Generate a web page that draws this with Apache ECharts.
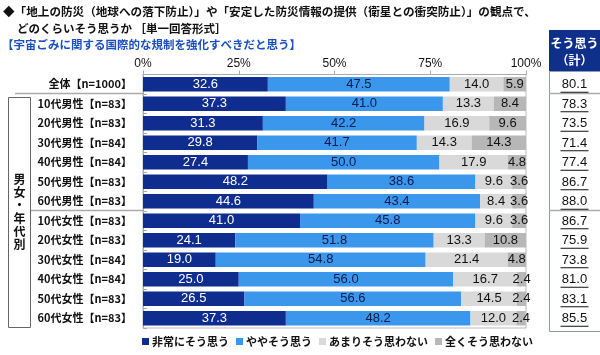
<!DOCTYPE html>
<html><head><meta charset="utf-8">
<script src="https://cdn.jsdelivr.net/npm/echarts@6/dist/echarts.min.js"></script>
<style>html,body{margin:0;padding:0;background:#fff}#c{width:600px;height:355px}</style>
</head><body><div id="c"></div>
<script>
const categories = ['全体【n=1000】','10代男性【n=83】','20代男性【n=83】','30代男性【n=84】','40代男性【n=84】','50代男性【n=83】','60代男性【n=83】','10代女性【n=83】','20代女性【n=83】','30代女性【n=84】','40代女性【n=84】','50代女性【n=83】','60代女性【n=83】'];
const seriesNames = ['非常にそう思う','ややそう思う','あまりそう思わない','全くそう思わない'];
const veryMuch = [32.6,37.3,31.3,29.8,27.4,48.2,44.6,41.0,24.1,19.0,25.0,26.5,37.3];
const somewhat = [47.5,41.0,42.2,41.7,50.0,38.6,43.4,45.8,51.8,54.8,56.0,56.6,48.2];
const notMuch = [14.0,13.3,16.9,14.3,17.9,9.6,8.4,9.6,13.3,21.4,16.7,14.5,12.0];
const notAtAll = [5.9,8.4,9.6,14.3,4.8,3.6,3.6,3.6,10.8,4.8,2.4,2.4,2.4];
const totals = [80.1,78.3,73.5,71.4,77.4,86.7,88.0,86.7,75.9,73.8,81.0,83.1,85.5];
const xTicks = [0,25,50,75,100];

const JP = '"Noto Sans CJK JP", sans-serif';
const NUM = '"Liberation Sans", Arial, sans-serif';
const colors = ['#0f2d8e','#3a97ec','#d9d9d9','#b7b7b7'];
const labelColors = ['#ffffff','#111a4a','#111111','#111111'];
const values = [veryMuch, somewhat, notMuch, notAtAll];

const chart = echarts.init(document.getElementById('c'), null, {renderer:'canvas'});
const GT = 74.5, RH = 19.5;
const barSeries = values.map((arr, k) => ({
  name: seriesNames[k], type: 'bar', stack: 'all', data: arr,
  barCategoryGap: '26%',
  itemStyle: {color: colors[k]},
  label: {show: true, position: 'inside', color: labelColors[k], fontFamily: NUM, fontSize: 13,
    formatter: p => p.value.toFixed(1)}
}));
barSeries.push({
  type: 'custom', name: 'total', coordinateSystem: 'cartesian2d',
  data: totals.map((t, i) => [0, i, t]),
  encode: {x: 0, y: 1}, clip: false, silent: true,
  renderItem: (params, api) => {
    const pt = api.coord([0, api.value(1)]);
    const txt = api.value(2).toFixed(1);
    return {type: 'group', children: [
      {type: 'text', style: {x: 574.5, y: pt[1] + 0.5, text: txt, fill: '#111', font: '13px ' + NUM, align: 'center', verticalAlign: 'middle'}},
      {type: 'line', shape: {x1: 560.5, y1: pt[1] + 8, x2: 588.5, y2: pt[1] + 8}, style: {stroke: '#111', lineWidth: 1}}
    ]};
  }
});

const graphics = [
  {type:'text', left: 3, top: 6, style:{text:'◆「地上の防災（地球への落下防止）」や「安定した防災情報の提供（衛星との衝突防止）」の観点で、', font:'bold 11.6px ' + JP, fill:'#111'}},
  {type:'text', left: 17, top: 23, style:{text:'どのくらいそう思うか ［単一回答形式］', font:'bold 11.5px ' + JP, fill:'#111'}},
  {type:'text', left: 2, top: 39, style:{text:'【宇宙ごみに関する国際的な規制を強化すべきだと思う】', font:'bold 11.5px ' + JP, fill:'#1a4fc4'}},
  {type:'rect', shape:{x:549, y:30, width:51, height:41}, style:{fill:'#0e2f8a'}},
  {type:'text', style:{x:574.5, y:43, text:'そう思う', font:'bold 12px ' + JP, fill:'#fff', align:'center', verticalAlign:'middle'}},
  {type:'text', style:{x:574.5, y:60, text:'（計）', font:'bold 12px ' + JP, fill:'#fff', align:'center', verticalAlign:'middle'}},
  {type:'rect', shape:{x:549.5, y:71.5, width:52, height:260}, style:{fill:'none', stroke:'#8d9bb5', lineWidth:1}},
  {type:'line', shape:{x1:15, y1:GT+RH-0.5, x2:143, y2:GT+RH-0.5}, style:{stroke:'#aaaaaa', lineWidth:1.5}},
  {type:'line', shape:{x1:549, y1:GT+RH-0.5, x2:600, y2:GT+RH-0.5}, style:{stroke:'#aaaaaa', lineWidth:1.5}},
  {type:'line', shape:{x1:30, y1:GT+7*RH-0.5, x2:143, y2:GT+7*RH-0.5}, style:{stroke:'#aaaaaa', lineWidth:1.5}},
  {type:'line', shape:{x1:549, y1:GT+7*RH-0.5, x2:600, y2:GT+7*RH-0.5}, style:{stroke:'#aaaaaa', lineWidth:1.5}},
  {type:'rect', shape:{x:8.5, y:97.5, width:22, height:230}, style:{fill:'none', stroke:'#666', lineWidth:1}},
  {type:'text', style:{x:19.5, y:212, text:'男\n女\n・\n年\n代\n別', font:'bold 12px ' + JP, fill:'#111', align:'center', verticalAlign:'middle', lineHeight:13}}
];

chart.setOption({
  animation: false,
  textStyle: {fontFamily: JP},
  grid: {left: 143, right: 74, top: GT, height: 13*RH, show: true, borderColor: '#bbbbbb', borderWidth: 1, containLabel: false},
  legend: {
    data: seriesNames, left: 137, top: 331, icon: 'rect', itemWidth: 7, itemHeight: 7, itemGap: 7,
    textStyle: {fontFamily: JP, fontWeight: 'bold', fontSize: 11, color: '#111', padding: [0,0,0,-2]}
  },
  xAxis: {
    type: 'value', position: 'top', min: xTicks[0], max: xTicks[xTicks.length-1], interval: 25,
    axisLine: {show: true, lineStyle: {color: '#aaaaaa'}},
    axisTick: {show: true, length: 4, lineStyle: {color: '#aaaaaa'}},
    splitLine: {show: false},
    axisLabel: {margin: 5, fontFamily: NUM, fontSize: 12, color: '#111', formatter: '{value}%'}
  },
  yAxis: {
    type: 'category', inverse: true, data: categories,
    axisLine: {show: true, lineStyle: {color: '#aaaaaa'}},
    axisTick: {show: true, inside: true, length: 4, lineStyle: {color: '#aaaaaa'}},
    axisLabel: {margin: 11, fontFamily: JP, fontWeight: 'bold', fontSize: 11, color: '#111'}
  },
  series: barSeries,
  graphic: graphics
});
</script></body></html>
